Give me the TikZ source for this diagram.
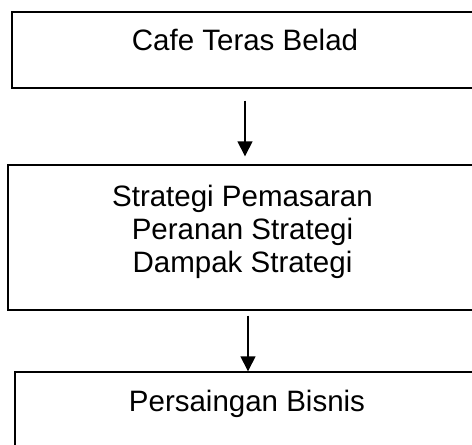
\documentclass[tikz,border=0pt]{standalone}
\usepackage{fontspec}
\setmainfont{Liberation Sans}
\usetikzlibrary{arrows.meta,positioning}

\begin{document}
\begin{tikzpicture}[x=1pt,y=-1pt,
	kotak/.style={draw,line width=1.4pt,inner sep=0pt},
	teks/.style={font=\fontsize{29.5}{33}\selectfont,align=center,inner sep=0pt},
	panah/.style={line width=1.4pt,-{Triangle[length=15pt,width=15pt]}}]
	\useasboundingbox (0,0) rectangle (472,445);
	\clip (0,0) rectangle (472,445);
	% kotak (sisi kanan dan bawah terpotong)
	\node[kotak,minimum width=464pt,minimum height=76pt] (cafe) at (244,50) {};
	\node[kotak,minimum width=469pt,minimum height=145pt] (strategi) at (242.5,237.5) {};
	\node[kotak,minimum width=463pt,minimum height=76pt] (saing) at (246.5,410) {};
	% teks
	\node[teks,anchor=base] (cafeteks) at (245,50) {Cafe Teras Belad};
	\node[teks] (strategiteks) at (242.5,231.5) {Strategi Pemasaran\\Peranan Strategi\\Dampak Strategi};
	\node[teks,anchor=base] (saingteks) at (247,411) {Persaingan Bisnis};
	% panah
	\draw[panah] ([xshift=1pt,yshift=-12pt]cafe.south) -- ([xshift=2.5pt,yshift=8pt]strategi.north);
	\draw[panah] ([xshift=5.5pt,yshift=-5pt]strategi.south) -- ([xshift=1.5pt]saing.north);
\end{tikzpicture}
\end{document}
